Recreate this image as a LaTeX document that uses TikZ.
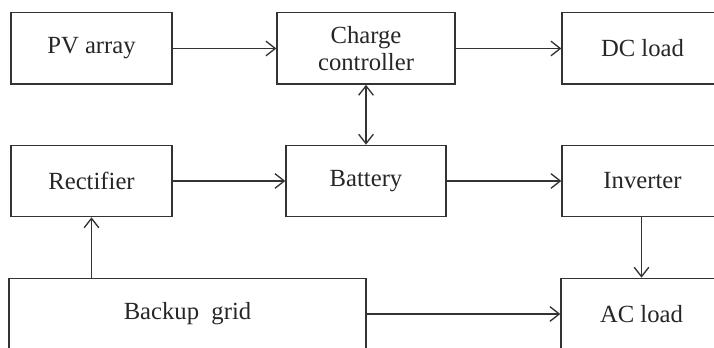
\documentclass[tikz,border=0pt]{standalone}
\usepackage{fontspec}
\setmainfont{Liberation Serif}
\usetikzlibrary{arrows.meta}
\begin{document}
\begin{tikzpicture}[
            x=0.75pt, y=-0.75pt,
            blockbox/.style={draw=black!80, line width=1pt, minimum height=53.5pt, inner sep=2pt,
                align=center, text=black!85, font=\fontsize{18.5}{20.25}\selectfont},
            link/.style={draw=black!80, line width=1pt, -{Straight Barb[length=7pt, width=11pt]}},
            twolink/.style={draw=black!80, line width=1pt, {Straight Barb[length=7pt, width=11pt]}-{Straight Barb[length=7pt, width=11pt]}}
        ]
            \useasboundingbox (0,0) rectangle (714,348);
            \clip (0,0) rectangle (714,348);
            % 第一行
            \node[blockbox, minimum width=120.75pt] (pv) at (91.5,48.5) {PV array};
            \node[blockbox, minimum width=133.5pt] (charger) at (366,48.5) {Charge\\controller};
            \node[blockbox, minimum width=120.75pt] (dcload) at (642.5,48.5) {DC load};
            % 第二行
            \node[blockbox, minimum width=120.75pt] (rectifier) at (91.5,181) {Rectifier};
            \node[blockbox, minimum width=120pt] (battery) at (366,181) {Battery};
            \node[blockbox, minimum width=120.75pt] (inverter) at (642.5,181) {Inverter};
            % 第三行
            \node[blockbox, minimum width=267.75pt] (grid) at (187.5,314) {Backup\ \ grid};
            \node[blockbox, minimum width=120.75pt] (acload) at (641.5,314) {AC load};

            \draw[link] (pv) -- (charger);
            \draw[link] (charger) -- (dcload);
            \draw[twolink] (charger) -- (battery);
            \draw[link] (rectifier) -- (battery);
            \draw[link] (battery) -- (inverter);
            \draw[link] (grid.north -| rectifier.south) -- (rectifier.south);
            \draw[link] (inverter.south -| acload.north) -- (acload.north);
            \draw[link] (grid) -- (acload);

        \end{tikzpicture}
\end{document}
